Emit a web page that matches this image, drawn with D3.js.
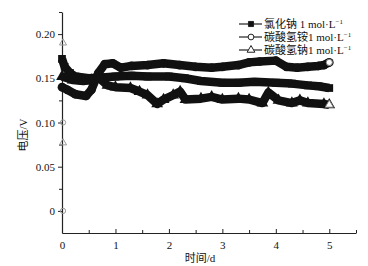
<!DOCTYPE html>
<html>
<head>
<meta charset="utf-8">
<script src="https://cdn.jsdelivr.net/npm/d3@7"></script>
<style>
  body { margin: 0; background: #fff; }
  svg text { font-family: "Liberation Serif", "Noto Sans CJK SC", serif; fill: #111; }
</style>
</head>
<body>
<div id="chart"></div>
<script>
// series (t in days, voltage in V)
const naclT   = [0, 0.05, 0.15, 0.25, 0.5, 0.75, 1.0, 1.3, 1.6, 2.0, 2.3, 2.6, 3.0, 3.3, 3.6, 4.0, 4.3, 4.6, 4.8, 5.0];
const naclV   = [0.172, 0.163, 0.156, 0.152, 0.150, 0.151, 0.152, 0.153, 0.152, 0.152, 0.150, 0.147, 0.145, 0.145, 0.146, 0.145, 0.144, 0.142, 0.141, 0.139];

const nh4T    = [0, 0.1, 0.25, 0.45, 0.55, 0.68, 0.8, 0.95, 1.1, 1.3, 1.6, 1.9, 2.2, 2.5, 2.8, 3.0, 3.3, 3.5, 3.7, 4.0, 4.2, 4.4, 4.6, 4.8, 4.9, 5.0];
const nh4V    = [0.140, 0.137, 0.132, 0.130, 0.137, 0.156, 0.166, 0.167, 0.162, 0.164, 0.165, 0.167, 0.165, 0.163, 0.162, 0.163, 0.165, 0.168, 0.169, 0.170, 0.163, 0.162, 0.163, 0.164, 0.165, 0.168];

const nahT    = [0, 0.2, 0.4, 0.55, 0.7, 0.85, 1.0, 1.28, 1.45, 1.6, 1.78, 1.9, 2.08, 2.21, 2.31, 2.6, 2.8, 3.0, 3.3, 3.5, 3.75, 3.86, 4.05, 4.3, 4.45, 4.6, 4.9, 5.0];
const nahV    = [0.152, 0.148, 0.147, 0.148, 0.150, 0.142, 0.140, 0.139, 0.135, 0.131, 0.121, 0.126, 0.131, 0.135, 0.126, 0.127, 0.129, 0.126, 0.127, 0.126, 0.122, 0.134, 0.125, 0.122, 0.125, 0.122, 0.121, 0.120];

// stray start points at t = 0
const nh4StartV = [0.10, 0.0];
const nahStartV = [0.19, 0.077];

const legendLabels = ["氯化钠 1 mol·L", "碳酸氢铵1 mol·L", "碳酸氢钠1 mol·L"];
const xTicks = [0, 1, 2, 3, 4, 5];
const yTicks = [0, 0.05, 0.10, 0.15, 0.20];

const width = 368, height = 266;
const margin = { top: 12, right: 12, bottom: 33, left: 62 };

const x = d3.scaleLinear().domain([0, 5.5]).range([margin.left, width - margin.right]);
const y = d3.scaleLinear().domain([-0.025, 0.225]).range([height - margin.bottom, margin.top]);

const svg = d3.select("#chart").append("svg")
    .attr("width", width)
    .attr("height", height);

// ---- axes
svg.append("g")
    .attr("transform", `translate(0,${y(-0.025)})`)
    .call(d3.axisBottom(x).tickValues(xTicks).tickFormat(d3.format("d")).tickSize(-4).tickPadding(8).tickSizeOuter(0));
svg.append("g")
    .attr("transform", `translate(0,${y(-0.025)})`)
    .call(d3.axisBottom(x).tickValues(d3.range(0.5, 5.6, 1)).tickFormat("").tickSize(-3).tickSizeOuter(0))
    .select(".domain").remove();

svg.append("g")
    .attr("transform", `translate(${x(0)},0)`)
    .call(d3.axisLeft(y).tickValues(yTicks).tickFormat(d => d === 0 ? "0" : d3.format(".2f")(d)).tickSize(4).tickPadding(3).tickSizeOuter(0));
svg.append("g")
    .attr("transform", `translate(${x(0)},0)`)
    .call(d3.axisLeft(y).tickValues([0.025, 0.075, 0.125, 0.175, 0.225]).tickFormat("").tickSize(3).tickSizeOuter(0))
    .select(".domain").remove();

svg.selectAll(".domain").attr("stroke", "#222").attr("stroke-width", 1.2);
svg.selectAll(".tick line").attr("stroke", "#222");
svg.selectAll(".tick text").style("font-size", "11px").style("font-family", "Liberation Serif, serif");

svg.append("text")
    .attr("x", 200).attr("y", 262)
    .attr("text-anchor", "middle")
    .style("font-size", "11px")
    .text("时间/d");

svg.append("text")
    .attr("transform", "translate(27,135) rotate(-90)")
    .attr("text-anchor", "middle")
    .style("font-size", "11px")
    .text("电压/V");

// ---- series (dense markers in the original read as thick bands)
const series = [
    { t: naclT, v: naclV, sym: d3.symbolSquare },
    { t: nh4T, v: nh4V, sym: d3.symbolCircle },
    { t: nahT, v: nahV, sym: d3.symbolTriangle }
];

const line = d3.line().x(d => x(d[0])).y(d => y(d[1]));

series.forEach(s => {
    const pts = s.t.map((t, i) => [t, s.v[i]]);
    svg.append("path")
        .datum(pts)
        .attr("d", line)
        .attr("fill", "none")
        .attr("stroke", "#111")
        .attr("stroke-width", 8.5)
        .attr("stroke-linejoin", "round");
    svg.append("g")
        .selectAll("path")
        .data(pts)
        .join("path")
        .attr("transform", d => `translate(${x(d[0])},${y(d[1])})`)
        .attr("d", d3.symbol(s.sym, 60))
        .attr("fill", "#111");
});

// open end markers
svg.append("path")
    .attr("transform", `translate(${x(nh4T[nh4T.length - 1])},${y(nh4V[nh4V.length - 1])})`)
    .attr("d", d3.symbol(d3.symbolCircle, 30))
    .attr("fill", "#fff").attr("stroke", "#777");
svg.append("path")
    .attr("transform", `translate(${x(nahT[nahT.length - 1])},${y(nahV[nahV.length - 1])})`)
    .attr("d", d3.symbol(d3.symbolTriangle, 30))
    .attr("fill", "#fff").attr("stroke", "#777");

// stray start points
svg.append("g").selectAll("path")
    .data(nh4StartV)
    .join("path")
    .attr("transform", d => `translate(${x(0) + 1},${y(d)})`)
    .attr("d", d3.symbol(d3.symbolCircle, 22))
    .attr("fill", "none").attr("stroke", "#999");
svg.append("g").selectAll("path")
    .data(nahStartV)
    .join("path")
    .attr("transform", d => `translate(${x(0) + 1},${y(d)})`)
    .attr("d", d3.symbol(d3.symbolTriangle, 22))
    .attr("fill", "none").attr("stroke", "#999");

// ---- legend
const legendSyms = [
    { sym: d3.symbolSquare, fill: "#111" },
    { sym: d3.symbolCircle, fill: "#fff" },
    { sym: d3.symbolTriangle, fill: "#fff" }
];
const legend = svg.append("g").attr("transform", "translate(239,24)");
legendLabels.forEach((lab, i) => {
    const g = legend.append("g").attr("transform", `translate(0,${i * 13})`);
    g.append("line").attr("x1", 0).attr("x2", 23).attr("y1", 0).attr("y2", 0)
        .attr("stroke", "#222").attr("stroke-width", 1.2);
    g.append("path").attr("transform", "translate(12,0)")
        .attr("d", d3.symbol(legendSyms[i].sym, 26))
        .attr("fill", legendSyms[i].fill).attr("stroke", "#222");
    const txt = g.append("text").attr("x", 25).attr("y", 4).style("font-size", "11px").text(lab);
    txt.append("tspan").attr("dy", -4).style("font-size", "7px").text("−1");
});
</script>
</body>
</html>
